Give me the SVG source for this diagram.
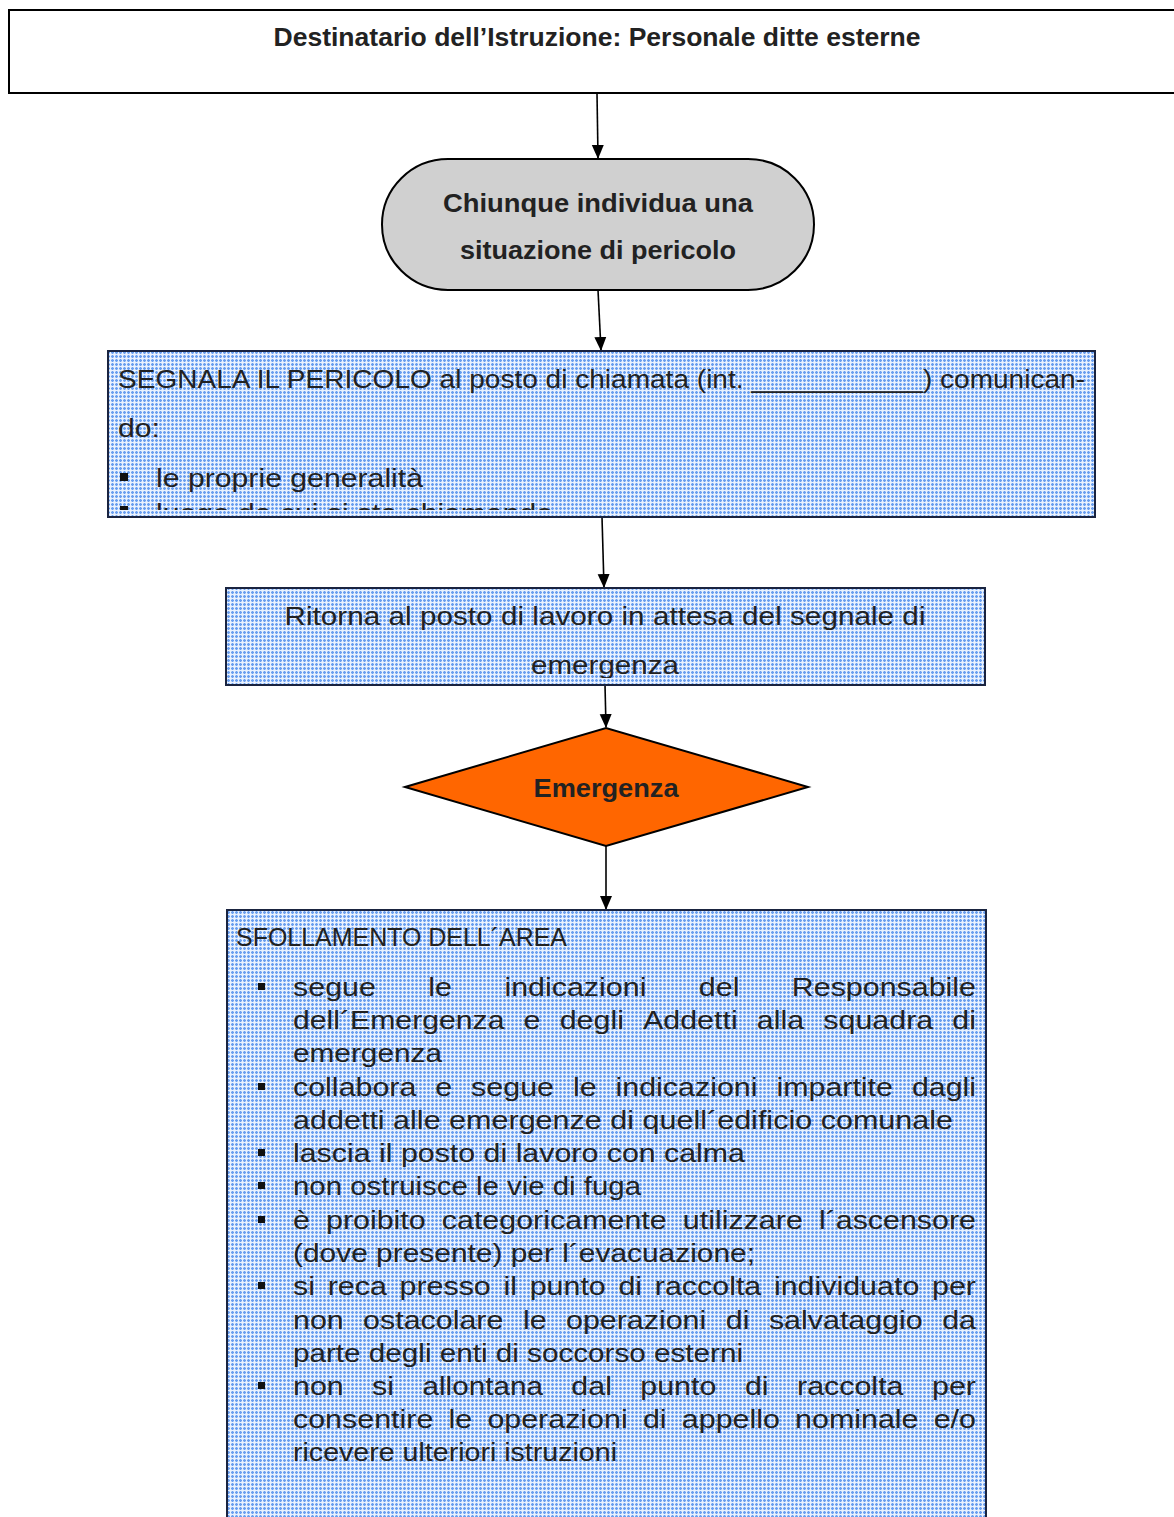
<svg xmlns="http://www.w3.org/2000/svg" width="1174" height="1517" viewBox="0 0 1174 1517">
<style>
.t{font-family:"Liberation Sans",Arial,sans-serif;font-size:26px;fill:#222}
.b{font-family:"Liberation Sans",Arial,sans-serif;font-size:25px;font-weight:bold;fill:#222}
.box{fill:url(#grid);stroke:#1a2440;stroke-width:2}
.conn{stroke:#000;stroke-width:1.6;fill:none;marker-end:url(#ah)}
.bul{fill:#111}
</style>
<defs>
<pattern id="grid" width="4" height="4" patternUnits="userSpaceOnUse">
<rect width="4" height="4" fill="#b9d2f9"/>
<rect x="0" y="0" width="1" height="4" fill="#6a9fef"/>
<rect x="0" y="0" width="4" height="1" fill="#6a9fef"/>
<rect x="2" y="0" width="1" height="4" fill="#eaf2fe"/>
<rect x="0" y="2" width="4" height="1" fill="#eaf2fe"/>
</pattern>
<marker id="ah" markerWidth="14" markerHeight="14" viewBox="0 0 14 14" refX="13" refY="7" orient="auto" markerUnits="userSpaceOnUse">
<path d="M0,1 L14,7 L0,13 Z" fill="#000"/>
</marker>
<clipPath id="c3"><rect x="109" y="352" width="985" height="158"/></clipPath>
<clipPath id="c4"><rect x="227" y="589" width="757" height="89"/></clipPath>
</defs>

<g id="connectors">
<line class="conn" x1="597" y1="93" x2="598" y2="158"/>
<line class="conn" x1="598" y1="290" x2="601" y2="350"/>
<line class="conn" x1="602" y1="517" x2="604" y2="587"/>
<line class="conn" x1="605" y1="685" x2="606" y2="727"/>
<line class="conn" x1="606" y1="846" x2="606" y2="909"/>
</g>

<g id="n1">
<rect x="9" y="10" width="1180" height="83" fill="#fff" stroke="#000" stroke-width="2"/>
<text class="b" x="597" y="46" text-anchor="middle" textLength="647" lengthAdjust="spacingAndGlyphs">Destinatario dell’Istruzione: Personale ditte esterne</text>
</g>

<g id="n2">
<rect x="382" y="159" width="432" height="131" rx="66" ry="66" fill="#d0d0d0" stroke="#000" stroke-width="2"/>
<text class="b" x="598" y="212" text-anchor="middle" textLength="310" lengthAdjust="spacingAndGlyphs">Chiunque individua una</text>
<text class="b" x="598" y="259" text-anchor="middle" textLength="276" lengthAdjust="spacingAndGlyphs">situazione di pericolo</text>
</g>

<g id="n3">
<rect class="box" x="108" y="351" width="987" height="166"/>
<g clip-path="url(#c3)">
<text class="t" x="118" y="388" textLength="967" lengthAdjust="spacingAndGlyphs">SEGNALA IL PERICOLO al posto di chiamata (int. ___________) comunican-</text>
<text class="t" x="118" y="437" textLength="42" lengthAdjust="spacingAndGlyphs">do:</text>
<rect class="bul" x="120" y="473" width="8" height="8"/>
<text class="t" x="156" y="487" textLength="267" lengthAdjust="spacingAndGlyphs">le proprie generalità</text>
<rect class="bul" x="120" y="506" width="8" height="8"/>
<text class="t" x="156" y="522" textLength="397" lengthAdjust="spacingAndGlyphs">luogo da cui si sta chiamando</text>
</g>
</g>

<g id="n4">
<rect class="box" x="226" y="588" width="759" height="97"/>
<g clip-path="url(#c4)">
<text class="t" x="605" y="625" text-anchor="middle" textLength="641" lengthAdjust="spacingAndGlyphs">Ritorna al posto di lavoro in attesa del segnale di</text>
<text class="t" x="605" y="674" text-anchor="middle" textLength="148" lengthAdjust="spacingAndGlyphs">emergenza</text>
</g>
</g>

<g id="n5">
<polygon points="405,787 606,728 808,787 606,846" fill="#ff6600" stroke="#000" stroke-width="2"/>
<text class="b" x="606" y="797" text-anchor="middle" textLength="145" lengthAdjust="spacingAndGlyphs">Emergenza</text>
</g>

<g id="n6">
<rect class="box" x="227" y="910" width="759" height="620"/>
<text class="t" x="236" y="946" textLength="331" lengthAdjust="spacingAndGlyphs">SFOLLAMENTO DELL´AREA</text>

<rect class="bul" x="258" y="983" width="7" height="7"/>
<text class="t" x="293" y="996" textLength="82.9" lengthAdjust="spacingAndGlyphs">segue</text>
<text class="t" x="428.3" y="996" textLength="23.7" lengthAdjust="spacingAndGlyphs">le</text>
<text class="t" x="504.4" y="996" textLength="142" lengthAdjust="spacingAndGlyphs">indicazioni</text>
<text class="t" x="698.8" y="996" textLength="40.6" lengthAdjust="spacingAndGlyphs">del</text>
<text class="t" x="791.8" y="996" textLength="184.2" lengthAdjust="spacingAndGlyphs">Responsabile</text>

<text class="t" x="293" y="1029" textLength="211.5" lengthAdjust="spacingAndGlyphs">dell´Emergenza</text>
<text class="t" x="523.6" y="1029" textLength="16.9" lengthAdjust="spacingAndGlyphs">e</text>
<text class="t" x="559.7" y="1029" textLength="64.2" lengthAdjust="spacingAndGlyphs">degli</text>
<text class="t" x="643" y="1029" textLength="94.7" lengthAdjust="spacingAndGlyphs">Addetti</text>
<text class="t" x="756.8" y="1029" textLength="47.3" lengthAdjust="spacingAndGlyphs">alla</text>
<text class="t" x="823.3" y="1029" textLength="109.9" lengthAdjust="spacingAndGlyphs">squadra</text>
<text class="t" x="952.3" y="1029" textLength="23.7" lengthAdjust="spacingAndGlyphs">di</text>
<text class="t" x="293" y="1062" textLength="149" lengthAdjust="spacingAndGlyphs">emergenza</text>

<rect class="bul" x="258" y="1083" width="7" height="7"/>
<text class="t" x="293" y="1096" textLength="123.4" lengthAdjust="spacingAndGlyphs">collabora</text>
<text class="t" x="435.3" y="1096" textLength="16.9" lengthAdjust="spacingAndGlyphs">e</text>
<text class="t" x="471.1" y="1096" textLength="82.9" lengthAdjust="spacingAndGlyphs">segue</text>
<text class="t" x="572.9" y="1096" textLength="23.7" lengthAdjust="spacingAndGlyphs">le</text>
<text class="t" x="615.5" y="1096" textLength="142" lengthAdjust="spacingAndGlyphs">indicazioni</text>
<text class="t" x="776.4" y="1096" textLength="116.6" lengthAdjust="spacingAndGlyphs">impartite</text>
<text class="t" x="911.9" y="1096" textLength="64.1" lengthAdjust="spacingAndGlyphs">dagli</text>
<text class="t" x="293" y="1129" textLength="660" lengthAdjust="spacingAndGlyphs">addetti alle emergenze di quell´edificio comunale</text>

<rect class="bul" x="258" y="1149" width="7" height="7"/>
<text class="t" x="293" y="1162" textLength="452" lengthAdjust="spacingAndGlyphs">lascia il posto di lavoro con calma</text>

<rect class="bul" x="258" y="1182" width="7" height="7"/>
<text class="t" x="293" y="1195" textLength="348" lengthAdjust="spacingAndGlyphs">non ostruisce le vie di fuga</text>

<rect class="bul" x="258" y="1216" width="7" height="7"/>
<text class="t" x="293" y="1229" textLength="16.9" lengthAdjust="spacingAndGlyphs">è</text>
<text class="t" x="326" y="1229" textLength="99.7" lengthAdjust="spacingAndGlyphs">proibito</text>
<text class="t" x="441.8" y="1229" textLength="224.9" lengthAdjust="spacingAndGlyphs">categoricamente</text>
<text class="t" x="682.8" y="1229" textLength="120" lengthAdjust="spacingAndGlyphs">utilizzare</text>
<text class="t" x="818.9" y="1229" textLength="157.1" lengthAdjust="spacingAndGlyphs">l´ascensore</text>
<text class="t" x="293" y="1262" textLength="462" lengthAdjust="spacingAndGlyphs">(dove presente) per l´evacuazione;</text>

<rect class="bul" x="258" y="1282" width="7" height="7"/>
<text class="t" x="293" y="1295" textLength="22" lengthAdjust="spacingAndGlyphs">si</text>
<text class="t" x="327.7" y="1295" textLength="59.2" lengthAdjust="spacingAndGlyphs">reca</text>
<text class="t" x="399.5" y="1295" textLength="91.3" lengthAdjust="spacingAndGlyphs">presso</text>
<text class="t" x="503.5" y="1295" textLength="13.5" lengthAdjust="spacingAndGlyphs">il</text>
<text class="t" x="529.7" y="1295" textLength="76.1" lengthAdjust="spacingAndGlyphs">punto</text>
<text class="t" x="618.4" y="1295" textLength="23.7" lengthAdjust="spacingAndGlyphs">di</text>
<text class="t" x="654.8" y="1295" textLength="106.5" lengthAdjust="spacingAndGlyphs">raccolta</text>
<text class="t" x="773.9" y="1295" textLength="145.4" lengthAdjust="spacingAndGlyphs">individuato</text>
<text class="t" x="932" y="1295" textLength="44" lengthAdjust="spacingAndGlyphs">per</text>

<text class="t" x="293" y="1329" textLength="50.7" lengthAdjust="spacingAndGlyphs">non</text>
<text class="t" x="363.1" y="1329" textLength="140.3" lengthAdjust="spacingAndGlyphs">ostacolare</text>
<text class="t" x="522.9" y="1329" textLength="23.7" lengthAdjust="spacingAndGlyphs">le</text>
<text class="t" x="566" y="1329" textLength="140.3" lengthAdjust="spacingAndGlyphs">operazioni</text>
<text class="t" x="725.8" y="1329" textLength="23.7" lengthAdjust="spacingAndGlyphs">di</text>
<text class="t" x="768.9" y="1329" textLength="153.9" lengthAdjust="spacingAndGlyphs">salvataggio</text>
<text class="t" x="942.2" y="1329" textLength="33.8" lengthAdjust="spacingAndGlyphs">da</text>
<text class="t" x="293" y="1362" textLength="450" lengthAdjust="spacingAndGlyphs">parte degli enti di soccorso esterni</text>

<rect class="bul" x="258" y="1382" width="7" height="7"/>
<text class="t" x="293" y="1395" textLength="50.7" lengthAdjust="spacingAndGlyphs">non</text>
<text class="t" x="372.1" y="1395" textLength="22" lengthAdjust="spacingAndGlyphs">si</text>
<text class="t" x="422.5" y="1395" textLength="120.4" lengthAdjust="spacingAndGlyphs">allontana</text>
<text class="t" x="571.3" y="1395" textLength="40.6" lengthAdjust="spacingAndGlyphs">dal</text>
<text class="t" x="640.3" y="1395" textLength="76.1" lengthAdjust="spacingAndGlyphs">punto</text>
<text class="t" x="744.9" y="1395" textLength="23.7" lengthAdjust="spacingAndGlyphs">di</text>
<text class="t" x="797" y="1395" textLength="106.5" lengthAdjust="spacingAndGlyphs">raccolta</text>
<text class="t" x="932" y="1395" textLength="44" lengthAdjust="spacingAndGlyphs">per</text>

<text class="t" x="293" y="1428" textLength="140.3" lengthAdjust="spacingAndGlyphs">consentire</text>
<text class="t" x="448.5" y="1428" textLength="23.7" lengthAdjust="spacingAndGlyphs">le</text>
<text class="t" x="487.4" y="1428" textLength="140.3" lengthAdjust="spacingAndGlyphs">operazioni</text>
<text class="t" x="642.9" y="1428" textLength="23.7" lengthAdjust="spacingAndGlyphs">di</text>
<text class="t" x="681.8" y="1428" textLength="98.1" lengthAdjust="spacingAndGlyphs">appello</text>
<text class="t" x="795.1" y="1428" textLength="123.4" lengthAdjust="spacingAndGlyphs">nominale</text>
<text class="t" x="933.7" y="1428" textLength="42.3" lengthAdjust="spacingAndGlyphs">e/o</text>
<text class="t" x="293" y="1461" textLength="324" lengthAdjust="spacingAndGlyphs">ricevere ulteriori istruzioni</text>
</g>
</svg>
